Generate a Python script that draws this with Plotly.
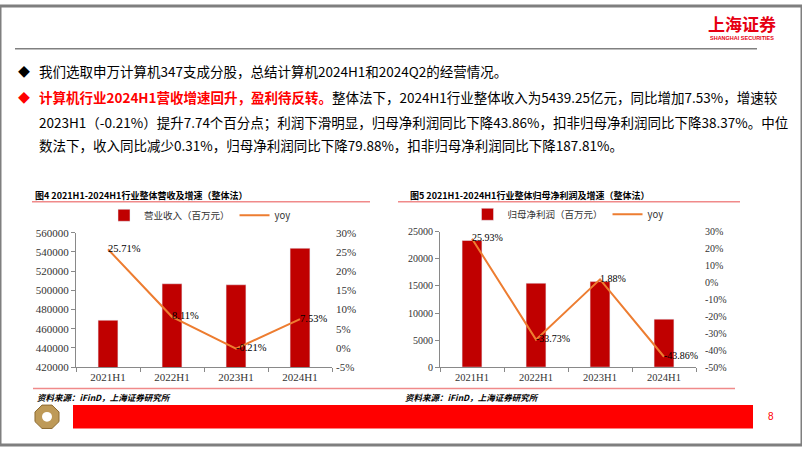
import math
import plotly.graph_objects as go

W, H = 802, 451


def X(px):
    return px / W


def Y(py):
    return 1 - py / H


# ---------------- data ----------------
periods = ["2021H1", "2022H1", "2023H1", "2024H1"]
revenue = [468873, 506899, 505835, 543925]          # 营业收入（百万元）
revenue_yoy = [25.71, 8.11, -0.21, 7.53]            # %
profit = [23400, 15510, 15800, 8870]                # 归母净利润（百万元）
profit_yoy = [25.93, -33.73, 1.88, -43.86]          # %

rev_ticks = [420000, 440000, 460000, 480000, 500000, 520000, 540000, 560000]
rev_pct_ticks = [-5, 0, 5, 10, 15, 20, 25, 30]
rev_pct_labels = ["-5%", "0%", "5%", "10%", "15%", "20%", "25%", "30%"]
profit_ticks = [0, 5000, 10000, 15000, 20000, 25000]
profit_pct_ticks = [-50, -40, -30, -20, -10, 0, 10, 20, 30]
profit_pct_labels = ["-50%", "-40%", "-30%", "-20%", "-10%", "0%", "10%", "20%", "30%"]

BAR = "#C00000"
LINE = "#ED7D31"
AX = "#898989"
SERIF = "Liberation Serif"
CJK = "Noto Sans CJK SC"

fig = go.Figure()

fig.add_trace(go.Bar(x=periods, y=revenue, name="营业收入（百万元）", marker_color=BAR,
                     width=0.31, xaxis="x", yaxis="y", legend="legend"))
fig.add_trace(go.Scatter(x=periods, y=revenue_yoy, name="yoy", mode="lines+text",
                         line=dict(color=LINE, width=2),
                         text=[f"{v:.2f}%" for v in revenue_yoy], textposition="middle right",
                         textfont=dict(family=SERIF, size=10.5, color="#000000"),
                         cliponaxis=False, xaxis="x", yaxis="y2", legend="legend"))
fig.add_trace(go.Bar(x=periods, y=profit, name="归母净利润（百万元）", marker_color=BAR,
                     width=0.31, xaxis="x2", yaxis="y3", legend="legend2"))
fig.add_trace(go.Scatter(x=periods, y=profit_yoy, name="yoy", mode="lines+text",
                         line=dict(color=LINE, width=2),
                         text=[f"{v:.2f}%" for v in profit_yoy], textposition="middle right",
                         textfont=dict(family=SERIF, size=10, color="#000000"),
                         cliponaxis=False, xaxis="x2", yaxis="y4", legend="legend2"))

xcommon = dict(type="category", showline=True, linecolor=AX, linewidth=1, ticks="outside",
               tickson="boundaries", ticklen=4, tickcolor=AX, showgrid=False, zeroline=False,
               fixedrange=True)
ycommon = dict(showline=True, linecolor=AX, linewidth=1, ticks="outside", ticklen=4,
               tickcolor=AX, showgrid=False, zeroline=False, fixedrange=True)
rcommon = dict(side="right", showline=False, ticks="", showgrid=False, zeroline=False,
               fixedrange=True)

fig.update_layout(
    width=W, height=H, margin=dict(l=0, r=0, t=0, b=0),
    paper_bgcolor="white", plot_bgcolor="rgba(0,0,0,0)",
    xaxis=dict(domain=[X(76), X(332)], anchor="y",
               tickfont=dict(family=SERIF, size=11, color="#333333"), **xcommon),
    yaxis=dict(domain=[Y(371), Y(233)], anchor="x", range=[420000, 560000],
               tickvals=rev_ticks, tickformat="d",
               tickfont=dict(family=SERIF, size=11, color="#333333"), **ycommon),
    yaxis2=dict(overlaying="y", anchor="x", range=[-5, 30], tickvals=rev_pct_ticks,
                ticktext=rev_pct_labels, ticklabelstandoff=3,
                tickfont=dict(family=SERIF, size=11, color="#333333"), **rcommon),
    xaxis2=dict(domain=[X(440), X(696)], anchor="y3",
                tickfont=dict(family=SERIF, size=10.5, color="#333333"), **xcommon),
    yaxis3=dict(domain=[Y(371), Y(232)], anchor="x2", range=[0, 25000],
                tickvals=profit_ticks, tickformat="d",
                tickfont=dict(family=SERIF, size=10, color="#333333"), **ycommon),
    yaxis4=dict(overlaying="y3", anchor="x2", range=[-50, 30], tickvals=profit_pct_ticks,
                ticktext=profit_pct_labels, ticklabelstandoff=8,
                tickfont=dict(family=SERIF, size=10, color="#333333"), **rcommon),
    legend=dict(orientation="h", x=X(200), xanchor="center", y=Y(215), yanchor="middle",
                font=dict(family=CJK, size=9.5, color="#333333"), bgcolor="rgba(0,0,0,0)",
                itemwidth=30),
    legend2=dict(orientation="h", x=X(568), xanchor="center", y=Y(214), yanchor="middle",
                 font=dict(family=CJK, size=9.5, color="#333333"), bgcolor="rgba(0,0,0,0)",
                 itemwidth=30),
    showlegend=True,
)

# ---------------- decorations ----------------
shapes = []


def hline(x0, x1, y, color, width):
    shapes.append(dict(type="line", xref="paper", yref="paper", x0=X(x0), x1=X(x1),
                       y0=Y(y), y1=Y(y), line=dict(color=color, width=width)))


shapes.append(dict(type="rect", xref="paper", yref="paper", x0=0, x1=1, y0=0, y1=1,
                   line=dict(color="#7F7F7F", width=3), layer="above"))
hline(15, 757, 44, "#808080", 1.5)
hline(32, 370, 201, "#F08A8A", 1.5)
hline(398, 740, 201, "#F08A8A", 1.5)
hline(33, 735, 393, "#F08A8A", 1.5)
shapes.append(dict(type="rect", xref="paper", yref="paper", x0=X(73), x1=X(753),
                   y0=Y(434), y1=Y(410), line=dict(width=0), fillcolor="#FF0000"))
# logo octagon
cx, cy, R = 47, 422, 13
pts = []
for k in range(8):
    a = math.radians(22.5 + 45 * k)
    pts.append((X(cx + R * math.cos(a)), Y(cy + R * math.sin(a))))
path = "M" + " L".join(f"{px:.5f},{py:.5f}" for px, py in pts) + " Z"
shapes.append(dict(type="path", xref="paper", yref="paper", path=path,
                   fillcolor="#BE9A58", line=dict(color="#8C6A30", width=1)))
shapes.append(dict(type="circle", xref="paper", yref="paper", x0=X(cx - 5), x1=X(cx + 5),
                   y0=Y(cy + 5), y1=Y(cy - 5), fillcolor="white", line=dict(width=0)))
fig.update_layout(shapes=shapes)

annotations = []


def ann(text, x, y, size, color="#000000", family=CJK, xanchor="left", **fontkw):
    annotations.append(dict(text=text, x=X(x), y=Y(y), xref="paper", yref="paper",
                            xanchor=xanchor, yanchor="middle", showarrow=False,
                            font=dict(family=family, size=size, color=color, **fontkw)))


ann("上海证券", 742, 18, 17, color="#E60012", xanchor="center", weight="bold")
ann("SHANGHAI SECURITIES", 742, 33, 5.5, color="#E60012", family="Liberation Sans",
    xanchor="center", weight="bold")

ann("◆", 24, 67, 12, xanchor="center")
ann("◆", 24, 94, 12, color="#FF0000", xanchor="center")
ann("我们选取申万计算机347支成分股，总结计算机2024H1和2024Q2的经营情况。", 37, 67, 13.5)
ann("<span style='color:#FF0000'><b>计算机行业2024H1营收增速回升，盈利待反转。</b></span>"
    "整体法下，2024H1行业整体收入为5439.25亿元，同比增加7.53%，增速较", 37, 94, 13.5)
ann("2023H1（-0.21%）提升7.74个百分点；利润下滑明显，归母净利润同比下降43.86%，"
    "扣非归母净利润同比下降38.37%。中位", 37, 119, 13.5)
ann("数法下，收入同比减少0.31%，归母净利润同比下降79.88%，扣非归母净利润同比下降187.81%。",
    37, 143, 13.5)

ann("图4 2021H1-2024H1行业整体营收及增速（整体法）", 33, 195, 9, weight="bold")
ann("图5 2021H1-2024H1行业整体归母净利润及增速（整体法）", 408, 195, 9, weight="bold")
ann("资料来源：iFinD，上海证券研究所", 35, 402, 8.5, weight="bold", style="italic")
ann("资料来源：iFinD，上海证券研究所", 403, 402, 8.5, weight="bold", style="italic")
ann("8", 771, 422, 10, color="#FF0000", family="Liberation Sans", xanchor="center")
fig.update_layout(annotations=annotations)

fig.write_html("out.html")
